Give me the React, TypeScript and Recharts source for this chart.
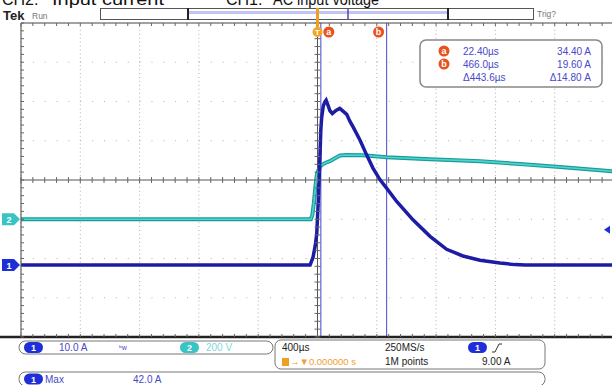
import { Line, LineChart, ReferenceLine, XAxis, YAxis } from 'recharts';

// scope settings
const TIME_PER_DIV = 400; // µs
const CH1_PER_DIV = 10; // A
const CH2_PER_DIV = 200; // V
const CH1_POS = -2.166; // divisions from centre
const CH2_POS = -1.0;
const TRIG_LEVEL = 9.0; // A

// channel 1, current (A) vs time (µs)
const currentTimes = [-2000, -50, -30, -15, -5, 5, 15, 22.4, 28, 39, 50, 58, 70, 84, 100, 125, 150, 172, 197, 219, 240, 287, 332, 374, 422, 466, 534, 644, 759, 871, 981, 1096, 1231, 1332, 1400, 2000];
const currentAmps = [0, 0, 2, 5, 8, 16, 26, 34.4, 37.5, 40.5, 41.6, 42.0, 40.8, 39.3, 38.6, 39.4, 39.9, 39.2, 38.4, 36.6, 35.2, 31.8, 28, 24.7, 21.7, 19.6, 16.2, 11.5, 7.3, 4, 2.3, 1.2, 0.5, 0.1, 0, 0];

// channel 2, voltage (V) vs time (µs)
const voltageTimes = [-2000, -45, -35, -25, -15, -5, 5, 20, 35, 55, 84, 118, 152, 200, 307, 467, 759, 1096, 1366, 1636, 2000];
const voltageVolts = [0, 0, 20, 80, 160, 225, 250, 270, 280, 288, 296, 311, 325, 327, 326, 316, 306, 296, 281, 266, 244];

const cursorTimes = [22.4, 466.0];
const cursorAmps = [34.4, 19.6];

const xDivs = [-5, -4, -3, -2, -1, 1, 2, 3, 4, 5];
const yDivs = [-3, -2, -1, 1, 2, 3];

const currentData = currentTimes.map((t, i) => ({ t, a: currentAmps[i] }));
const voltageData = voltageTimes.map((t, i) => ({ t, v: voltageVolts[i] }));

const PLOT = { left: 21, top: 23, w: 593, h: 314 };
const T_MAX = 5 * TIME_PER_DIV;
const xPx = (t: number) => PLOT.left + ((t + T_MAX) / (2 * T_MAX)) * PLOT.w;
const yDiv = (d: number) => PLOT.top + ((4 - d) / 8) * PLOT.h;
const divToCh1 = (d: number) => (d - CH1_POS) * CH1_PER_DIV;

const FONT = '"Liberation Sans", Arial, sans-serif';
const BLUE_TXT = '#4848c8';
const CH1_COL = '#1f2fd8';
const CH2_COL = '#38c4c4';
const ORANGE = '#e8521e';

function Badge({ x, y, n, fill }: { x: number; y: number; n: string; fill: string }) {
  return (
    <g>
      <rect x={x} y={y - 5.5} width={19} height={11} rx={5.5} fill={fill} />
      <text x={x + 9.5} y={y + 3.5} fontSize={9} fill="#fff" textAnchor="middle" fontFamily={FONT} fontWeight="bold">
        {n}
      </text>
    </g>
  );
}

function Ground({ y, n, fill }: { y: number; n: string; fill: string }) {
  return (
    <g>
      <path d={`M2,${y - 6} H14 L20,${y} L14,${y + 6} H2 Z`} fill={fill} />
      <text x={9} y={y + 3.5} fontSize={9} fill="#fff" textAnchor="middle" fontFamily={FONT} fontWeight="bold">
        {n}
      </text>
    </g>
  );
}

function Circle({ x, y, ch }: { x: number; y: number; ch: string }) {
  return (
    <g>
      <circle cx={x} cy={y} r={5.5} fill={ORANGE} />
      <text x={x} y={y + 3} fontSize={9} fill="#fff" textAnchor="middle" fontFamily={FONT} fontWeight="bold">
        {ch}
      </text>
    </g>
  );
}

function Chrome() {
  const minorX: number[] = [];
  for (let k = -25; k <= 25; k++) minorX.push(xPx((k * TIME_PER_DIV) / 5));
  const minorY: number[] = [];
  for (let k = -20; k <= 20; k++) minorY.push(yDiv(k / 5));
  const cx = xPx(0);
  const cy = yDiv(0);
  const trigY = yDiv(CH1_POS + TRIG_LEVEL / CH1_PER_DIV);
  const dt = cursorTimes[1] - cursorTimes[0];
  const da = cursorAmps[0] - cursorAmps[1];
  const rows = [
    { c: 'a', t: `${cursorTimes[0].toFixed(2)}µs`, v: `${cursorAmps[0].toFixed(2)} A` },
    { c: 'b', t: `${cursorTimes[1].toFixed(1)}µs`, v: `${cursorAmps[1].toFixed(2)} A` },
    { c: '', t: `Δ${dt.toFixed(1)}µs`, v: `Δ${da.toFixed(2)} A` },
  ];
  return (
    <svg width={612} height={385} style={{ position: 'absolute', left: 0, top: 0, pointerEvents: 'none' }}>
      {/* title, only the lower part shows in the capture */}
      <g fontFamily={FONT} fontSize={16} fill="#111">
        <text x={2} y={5}>CH2:</text>
        <text x={52} y={5} textLength={112} lengthAdjust="spacingAndGlyphs">Input current</text>
        <text x={226} y={5}>CH1:</text>
        <text x={273} y={5} textLength={106} lengthAdjust="spacingAndGlyphs">AC input voltage</text>
      </g>
      <text x={3} y={20} fontFamily={FONT} fontSize={13} fontWeight="bold" fill="#222">Tek</text>
      <text x={32} y={19} fontFamily={FONT} fontSize={8.5} fill="#777">Run</text>
      {/* record bar */}
      <rect x={100.5} y={8.5} width={433} height={11} fill="#fff" stroke="#555" />
      <rect x={188} y={11} width={260} height={3} fill="#c4c4f0" />
      <line x1={188} y1={8} x2={188} y2={20} stroke="#222" strokeWidth={2} />
      <line x1={448} y1={8} x2={448} y2={20} stroke="#222" strokeWidth={2} />
      <line x1={348} y1={8} x2={348} y2={20} stroke="#4a4ab0" strokeWidth={1.5} />
      <text x={537} y={17} fontFamily={FONT} fontSize={8.5} fill="#777">Trig?</text>
      {/* graticule frame */}
      <line x1={PLOT.left} y1={PLOT.top} x2={612} y2={PLOT.top} stroke="#444" />
      <line x1={PLOT.left} y1={PLOT.top} x2={PLOT.left} y2={PLOT.top + PLOT.h} stroke="#444" />
      <line x1={0} y1={PLOT.top + PLOT.h} x2={612} y2={PLOT.top + PLOT.h} stroke="#222" strokeWidth={2.5} />
      {minorX.map((x, i) => (
        <g key={`mx${i}`} stroke="#666">
          <line x1={x} y1={cy - 3} x2={x} y2={cy + 3} />
          <line x1={x} y1={PLOT.top} x2={x} y2={PLOT.top + 3} />
          <line x1={x} y1={PLOT.top + PLOT.h - 3} x2={x} y2={PLOT.top + PLOT.h} />
        </g>
      ))}
      {minorY.map((y, i) => (
        <g key={`my${i}`} stroke="#666">
          <line x1={cx - 3} y1={y} x2={cx + 3} y2={y} />
          <line x1={PLOT.left} y1={y} x2={PLOT.left + 3} y2={y} />
        </g>
      ))}
      {/* trigger + cursor markers */}
      <line x1={cx} y1={8} x2={cx} y2={28} stroke="#f0a020" strokeWidth={3} />
      <circle cx={cx} cy={32} r={5} fill="#f2a42a" />
      <text x={cx} y={35} fontSize={8} fill="#fff" textAnchor="middle" fontFamily={FONT} fontWeight="bold">T</text>
      <Circle x={xPx(cursorTimes[0]) + 8} y={32} ch="a" />
      <Circle x={xPx(cursorTimes[1]) - 8} y={32} ch="b" />
      {/* readout */}
      <rect x={420} y={40} width={182} height={47} rx={6} fill="#fff" stroke="#888" strokeWidth={1.5} />
      {rows.map((r, i) => (
        <g key={i} fontFamily={FONT} fontSize={10} fill={BLUE_TXT}>
          {r.c && <Circle x={444} y={51 + i * 13} ch={r.c} />}
          <text x={463} y={54.5 + i * 13}>{r.t}</text>
          <text x={591} y={54.5 + i * 13} textAnchor="end">{r.v}</text>
        </g>
      ))}
      {/* ground markers */}
      <Ground y={yDiv(CH2_POS)} n="2" fill={CH2_COL} />
      <Ground y={yDiv(CH1_POS)} n="1" fill={CH1_COL} />
      <path d={`M604,${trigY} L610,${trigY - 4} L610,${trigY + 4} Z`} fill={CH1_COL} />
      {/* bottom panel */}
      <rect x={19} y={341} width={254} height={13} rx={6.5} fill="#fff" stroke="#777" />
      <rect x={275} y={340} width={270} height={29} rx={6} fill="#fff" stroke="#777" />
      <rect x={19} y={372} width={526} height={14} rx={6.5} fill="#fff" stroke="#777" />
      <g fontFamily={FONT} fontSize={10}>
        <Badge x={24} y={347.5} n="1" fill={CH1_COL} />
        <text x={59} y={351} fill={BLUE_TXT}>10.0 A</text>
        <text x={119} y={350} fill={BLUE_TXT} fontSize={7}>ᵇw</text>
        <Badge x={180} y={347.5} n="2" fill={CH2_COL} />
        <text x={206} y={351} fill="#7fd8d8">200 V</text>
        <text x={282} y={351} fill="#222">400µs</text>
        <text x={385} y={351} fill="#222">250MS/s</text>
        <Badge x={468} y={347.5} n="1" fill={CH1_COL} />
        <path d="M492,352 H495 L499,344 H502" fill="none" stroke="#333" />
        <rect x={282} y={358} width={7} height={8} fill="#f0a020" />
        <text x={290} y={365} fill="#f0a030" fontSize={9.5}>→▼0.000000 s</text>
        <text x={385} y={365} fill="#222">1M points</text>
        <text x={482} y={365} fill="#222">9.00 A</text>
        <Badge x={24} y={379} n="1" fill={CH1_COL} />
        <text x={45} y={382.5} fill={BLUE_TXT}>Max</text>
        <text x={133} y={382.5} fill={BLUE_TXT}>{`${Math.max(...currentAmps).toFixed(1)} A`}</text>
      </g>
    </svg>
  );
}

export default function App() {
  return (
    <div style={{ position: 'absolute', left: 0, top: 0, width: 612, height: 385, overflow: 'hidden', background: '#fff' }}>
      <div style={{ position: 'absolute', left: 0, top: 0 }}>
        <LineChart width={620} height={385} margin={{ top: PLOT.top, right: 620 - PLOT.left - PLOT.w, bottom: 385 - PLOT.top - PLOT.h, left: PLOT.left }}>
          <XAxis type="number" dataKey="t" domain={[-T_MAX, T_MAX]} hide allowDataOverflow />
          <YAxis yAxisId="ch1" type="number" domain={[divToCh1(-4), divToCh1(4)]} hide allowDataOverflow />
          <YAxis yAxisId="ch2" type="number" domain={[(-4 - CH2_POS) * CH2_PER_DIV, (4 - CH2_POS) * CH2_PER_DIV]} hide allowDataOverflow />
          {xDivs.map((d) => (
            <ReferenceLine key={`vx${d}`} yAxisId="ch1" x={d * TIME_PER_DIV} stroke="#b0b0b0" strokeDasharray="1 2.925" ifOverflow="visible" />
          ))}
          {yDivs.map((d) => (
            <ReferenceLine key={`hy${d}`} yAxisId="ch1" y={divToCh1(d)} stroke="#b0b0b0" strokeDasharray="1 10.86" ifOverflow="visible" />
          ))}
          <ReferenceLine yAxisId="ch1" y={divToCh1(0)} stroke="#555" ifOverflow="visible" />
          <ReferenceLine yAxisId="ch1" x={0} stroke="#555" ifOverflow="visible" />
          {cursorTimes.map((t) => (
            <ReferenceLine key={`c${t}`} yAxisId="ch1" x={t} stroke="#6464d8" strokeWidth={1.2} ifOverflow="visible" />
          ))}
          <Line data={voltageData} dataKey="v" yAxisId="ch2" type="linear" stroke="#1e9a9a" strokeWidth={4} dot={false} isAnimationActive={false} />
          <Line data={voltageData} dataKey="v" yAxisId="ch2" type="linear" stroke="#4ad6d0" strokeWidth={1.6} dot={false} isAnimationActive={false} />
          <Line data={currentData} dataKey="a" yAxisId="ch1" type="linear" stroke="#1c1ca4" strokeWidth={3.5} dot={false} isAnimationActive={false} />
        </LineChart>
      </div>
      <Chrome />
    </div>
  );
}
